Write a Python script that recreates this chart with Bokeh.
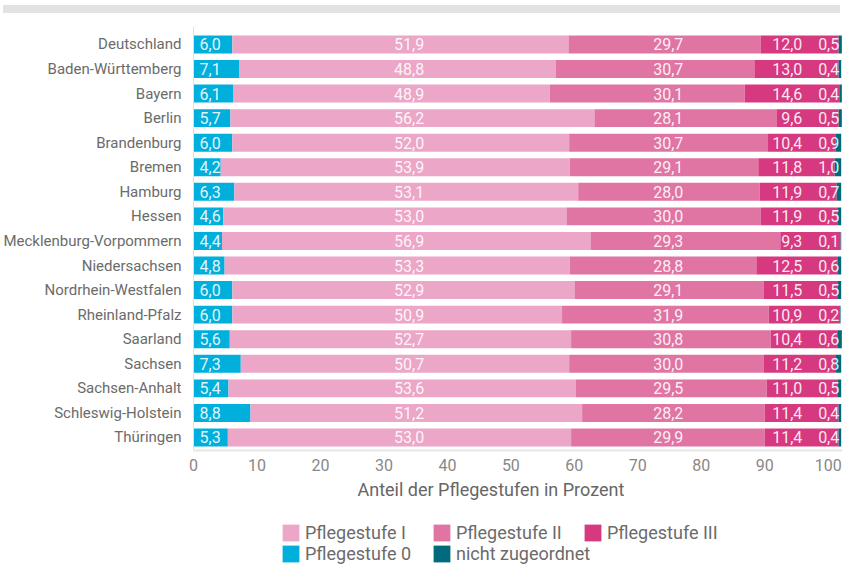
from bokeh.plotting import figure
from bokeh.models import (ColumnDataSource, Range1d, FixedTicker, Legend, LegendItem,
                          Title, Div)
from bokeh.layouts import column
from bokeh.embed import file_html
from bokeh.resources import INLINE
from bokeh.core.properties import value

# ---------------- data ----------------
categories = ["Deutschland", "Baden-Württemberg", "Bayern", "Berlin", "Brandenburg",
              "Bremen", "Hamburg", "Hessen", "Mecklenburg-Vorpommern", "Niedersachsen",
              "Nordrhein-Westfalen", "Rheinland-Pfalz", "Saarland", "Sachsen",
              "Sachsen-Anhalt", "Schleswig-Holstein", "Thüringen"]
stufe_0 = [6.0, 7.1, 6.1, 5.7, 6.0, 4.2, 6.3, 4.6, 4.4, 4.8, 6.0, 6.0, 5.6, 7.3, 5.4, 8.8, 5.3]
stufe_1 = [51.9, 48.8, 48.9, 56.2, 52.0, 53.9, 53.1, 53.0, 56.9, 53.3, 52.9, 50.9, 52.7,
           50.7, 53.6, 51.2, 53.0]
stufe_2 = [29.7, 30.7, 30.1, 28.1, 30.7, 29.1, 28.0, 30.0, 29.3, 28.8, 29.1, 31.9, 30.8,
           30.0, 29.5, 28.2, 29.9]
stufe_3 = [12.0, 13.0, 14.6, 9.6, 10.4, 11.8, 11.9, 11.9, 9.3, 12.5, 11.5, 10.9, 10.4,
           11.2, 11.0, 11.4, 11.4]
nicht_zugeordnet = [0.5, 0.4, 0.4, 0.5, 0.9, 1.0, 0.7, 0.5, 0.1, 0.6, 0.5, 0.2, 0.6,
                    0.8, 0.5, 0.4, 0.4]
series_names = ["Pflegestufe 0", "Pflegestufe I", "Pflegestufe II", "Pflegestufe III",
                "nicht zugeordnet"]
x_tick_values = [0, 10, 20, 30, 40, 50, 60, 70, 80, 90, 100]
x_title = "Anteil der Pflegestufen in Prozent"

# ---------------- style ----------------
FONT = "Roboto"
colors = ["#00afdb", "#eca6c7", "#e075a4", "#d6397f", "#006b7d"]
TICK_SCALE = 0.98  # reference's tick labels sit slightly left of the bar scale

keys = ["s0", "s1", "s2", "s3", "s4"]
series = [stufe_0, stufe_1, stufe_2, stufe_3, nicht_zugeordnet]


def fmt(v):
    return f"{v:.1f}".replace(".", ",")


data = dict(y=list(range(len(categories))))
for k, s in zip(keys, series):
    data[k] = s
    data[k + "_lab"] = [fmt(v) for v in s]
source = ColumnDataSource(data)

p = figure(frame_width=649, frame_height=424, x_range=Range1d(0, 100.2),
           y_range=Range1d(len(categories) - 0.47, -0.73),
           output_backend="svg", toolbar_location=None,
           min_border_left=186, min_border_right=0, min_border_top=8,
           min_border_bottom=54)
p.outline_line_color = None
p.grid.visible = False
p.background_fill_color = "white"

renderers = p.hbar_stack(keys, y="y", height=0.73, color=colors, line_color=None,
                         source=source)

# data labels
label_specs = [("s0_lab", 0.93, "left"), ("s1_lab", 33.3, "center"),
               ("s2_lab", 73.3, "center"), ("s3_lab", 94.0, "right"),
               ("s4_lab", 99.7, "right")]
for col, xpos, align in label_specs:
    p.text(x=xpos, y="y", text=col, source=source, text_align=align,
           text_baseline="middle", text_color="white", text_alpha=0.9,
           text_font=value(FONT), text_font_size="16px")

# y axis
p.yaxis.ticker = FixedTicker(ticks=data["y"])
p.yaxis.major_label_overrides = {i: c for i, c in enumerate(categories)}
p.yaxis.major_tick_line_color = None
p.yaxis.minor_tick_line_color = None
p.yaxis.axis_line_color = "#e0e0e0"
p.yaxis.major_label_text_font = FONT
p.yaxis.major_label_text_font_size = "15px"
p.yaxis.major_label_text_color = "#6b6b6b"
p.yaxis.major_label_standoff = 6

# x axis
tick_pos = [round(t * TICK_SCALE, 3) for t in x_tick_values]
p.xaxis.ticker = FixedTicker(ticks=tick_pos)
p.xaxis.major_label_overrides = {tp: str(t) for tp, t in zip(tick_pos, x_tick_values)}
p.xaxis.major_tick_line_color = None
p.xaxis.minor_tick_line_color = None
p.xaxis.axis_line_color = "#e6e6e6"
p.xaxis.axis_line_width = 2
p.xaxis.major_label_text_font = FONT
p.xaxis.major_label_text_font_size = "16px"
p.xaxis.major_label_text_color = "#888888"
p.xaxis.major_label_standoff = 2

p.add_layout(Title(text=x_title, align="left", offset=164, standoff=7,
                   text_font=FONT, text_font_size="18px", text_font_style="normal",
                   text_color="#666666"), "below")

# ---------------- legend (separate strip below the chart) ----------------
lg = figure(frame_width=649, frame_height=60, output_backend="svg",
            toolbar_location=None, x_axis_location=None, y_axis_location=None,
            min_border_left=186, min_border_right=0, min_border_top=0,
            min_border_bottom=0, x_range=Range1d(0, 1), y_range=Range1d(0, 1))
lg.outline_line_color = None
lg.grid.visible = False
# hidden proxies of the stacked series, used only for the legend keys
proxies = lg.hbar_stack(keys, y="y", height=0.73, color=colors, line_color=None,
                        source=source)
for r in proxies:
    r.visible = False


def make_legend(idx, loc):
    items = [LegendItem(label=series_names[i], renderers=[proxies[i]]) for i in idx]
    return Legend(items=items, location=loc, orientation="horizontal",
                  glyph_width=21, glyph_height=21, label_standoff=4,
                  label_width=119, label_height=17, spacing=7, padding=0,
                  margin=0, border_line_color=None, background_fill_alpha=0,
                  inactive_fill_alpha=0, click_policy="none",
                  label_text_font=FONT, label_text_font_size="18px",
                  label_text_color="#6b6b6b")


lg.add_layout(make_legend([1, 2, 3], (218, 21)))
lg.add_layout(make_legend([0, 4], (218, 0)))

top_bar = Div(text="", width=837, height=8,
              styles={"background-color": "#e2e2e2", "margin-left": "3px"})
layout = column(top_bar, p, lg, spacing=0)

open("out.html", "w").write(file_html(layout, INLINE))
